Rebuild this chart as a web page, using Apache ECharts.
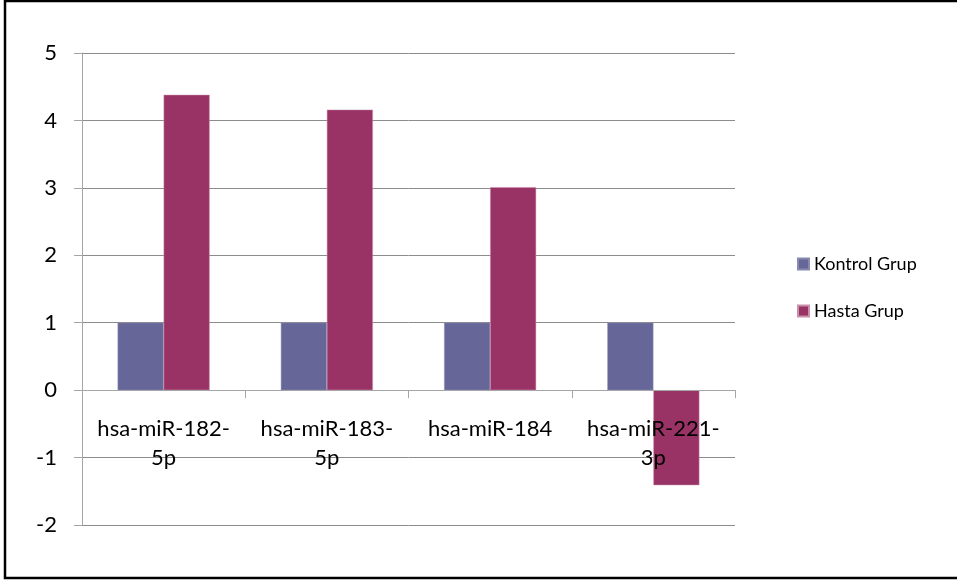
<!DOCTYPE html>
<html><head><meta charset="utf-8">
<script src="https://cdn.jsdelivr.net/npm/echarts@6/dist/echarts.min.js"></script>
<style>html,body{margin:0;padding:0;background:#fff}#c{width:957px;height:581px}</style>
</head><body><div id="c"></div>
<script>
const categories = ["hsa-miR-182-5p", "hsa-miR-183-5p", "hsa-miR-184", "hsa-miR-221-3p"];
const kontrol = [1, 1, 1, 1];
const hasta = [4.38, 4.16, 3.01, -1.41];
const seriesNames = ["Kontrol Grup", "Hasta Grup"];
const yTicks = [-2, -1, 0, 1, 2, 3, 4, 5];

const chart = echarts.init(document.getElementById('c'), null, {renderer: 'canvas'});
const font = 'Lato, "Open Sans", sans-serif';
chart.setOption({
  animation: false,
  backgroundColor: '#fff',
  textStyle: {fontFamily: font},
  graphic: [{
    type: 'rect', shape: {x: 5, y: 1, width: 1000, height: 577},
    style: {fill: 'none', stroke: '#000', lineWidth: 2.5}, silent: true, z: 100
  }],
  grid: {left: 82, right: 222, top: 53, bottom: 56, outerBoundsMode: 'none', containLabel: false},
  legend: {
    orient: 'vertical', left: 792, top: 250, itemGap: 29,
    itemWidth: 11, itemHeight: 11, icon: 'rect',
    textStyle: {fontSize: 18, color: '#000', fontFamily: font},
    data: seriesNames
  },
  xAxis: [{
    type: 'category', data: categories, z: 3,
    axisLine: {onZero: true, lineStyle: {color: '#a6a6a6', width: 1}},
    axisTick: {show: true, length: 8, lineStyle: {color: '#a6a6a6'}},
    axisLabel: {show: false}
  }, {
    type: 'category', data: categories, z: 10, position: 'bottom', offset: -135,
    axisLine: {show: false}, axisTick: {show: false}, splitLine: {show: false},
    axisLabel: {
      fontSize: 22, color: '#000', fontFamily: font, margin: 24, lineHeight: 29,
      interval: 0,
      formatter: v => v.replace(/-(\d+p)$/, '-\n$1')
    }
  }],
  yAxis: {
    type: 'value', min: yTicks[0], max: yTicks[yTicks.length - 1], interval: 1,
    axisLine: {show: true, lineStyle: {color: '#a6a6a6'}},
    axisTick: {show: true, length: 8, lineStyle: {color: '#a6a6a6'}},
    axisLabel: {fontSize: 22, color: '#000', fontFamily: font, margin: 25},
    splitLine: {show: true, lineStyle: {color: '#8c8c8c', width: 1}}
  },
  series: [
    {name: seriesNames[0], type: 'bar', data: kontrol, barWidth: 46, barGap: '0%',
     itemStyle: {color: '#666699', borderColor: '#8a8ab0', borderWidth: 0.5}},
    {name: seriesNames[1], type: 'bar', data: hasta, barWidth: 46, barGap: '0%',
     itemStyle: {color: '#993366', borderColor: '#c890aa', borderWidth: 0.5}}
  ]
});
</script></body></html>
